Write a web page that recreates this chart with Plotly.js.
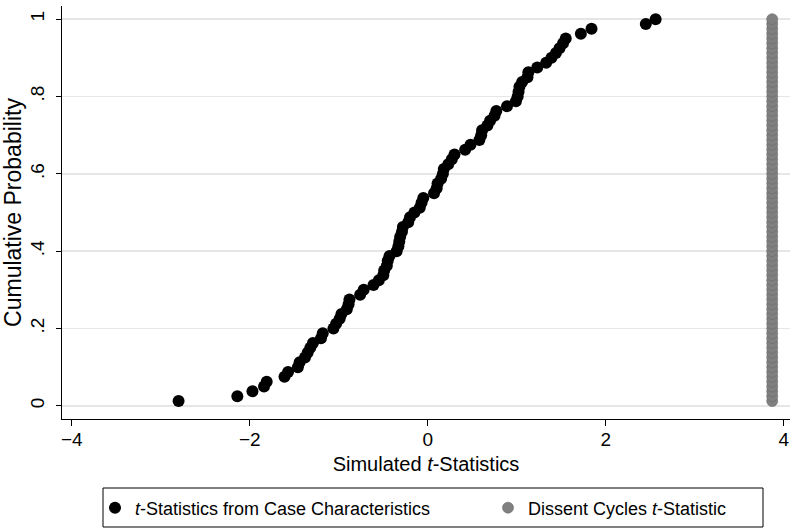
<!DOCTYPE html>
<html>
<head>
<meta charset="utf-8">
<script src="https://cdn.plot.ly/plotly-3.0.1.min.js"></script>
<style>html,body{margin:0;padding:0;background:#fff;}#chart{width:791px;height:528px;}</style>
</head>
<body>
<div id="chart"></div>
<script>
// Simulated t-statistics (sorted) from case characteristics
var caseT = [-2.80,-2.14,-1.97,-1.84,-1.81,-1.61,-1.57,-1.46,-1.44,-1.38,
             -1.35,-1.32,-1.29,-1.20,-1.18,-1.06,-1.03,-0.99,-0.97,-0.91,
             -0.89,-0.88,-0.76,-0.72,-0.61,-0.55,-0.50,-0.49,-0.46,-0.45,
             -0.43,-0.35,-0.33,-0.32,-0.31,-0.29,-0.28,-0.22,-0.20,-0.15,
             -0.09,-0.07,-0.05,0.07,0.10,0.11,0.15,0.17,0.18,0.23,
             0.27,0.30,0.42,0.48,0.58,0.60,0.61,0.67,0.70,0.75,
             0.77,0.89,0.99,1.01,1.02,1.03,1.06,1.12,1.13,1.23,
             1.33,1.39,1.44,1.48,1.52,1.55,1.72,1.84,2.45,2.56];
// cumulative probabilities i/80
var cumProb = [0.0125,0.025,0.0375,0.05,0.0625,0.075,0.0875,0.1,0.1125,0.125,
               0.1375,0.15,0.1625,0.175,0.1875,0.2,0.2125,0.225,0.2375,0.25,
               0.2625,0.275,0.2875,0.3,0.3125,0.325,0.3375,0.35,0.3625,0.375,
               0.3875,0.4,0.4125,0.425,0.4375,0.45,0.4625,0.475,0.4875,0.5,
               0.5125,0.525,0.5375,0.55,0.5625,0.575,0.5875,0.6,0.6125,0.625,
               0.6375,0.65,0.6625,0.675,0.6875,0.7,0.7125,0.725,0.7375,0.75,
               0.7625,0.775,0.7875,0.8,0.8125,0.825,0.8375,0.85,0.8625,0.875,
               0.8875,0.9,0.9125,0.925,0.9375,0.95,0.9625,0.975,0.9875,1.0];
// Dissent cycles t-statistic (single value repeated at each probability)
var dissentT = 3.87;
var dissentX = cumProb.map(function(){ return dissentT; });

var yTickVals = [0, 0.2, 0.4, 0.6, 0.8, 1];
var yTickText = ["0", ".2", ".4", ".6", ".8", "1"];
var xTickVals = [-4, -2, 0, 2, 4];
var xTickText = ["\u22124", "\u22122", "0", "2", "4"];

var W = 791, H = 528, mL = 62, mR = 1, mT = 6, mB = 109;
var pw = W - mL - mR, ph = H - mT - mB;
function px(x){ return (x - mL) / pw; }
function py(y){ return (H - mB - y) / ph; }

var FONT = "Liberation Sans, Arial, Helvetica, sans-serif";

var traces = [
  {x: caseT, y: cumProb, type: 'scatter', mode: 'markers',
   name: '<i>t</i>-Statistics from Case Characteristics', legendwidth: 348,
   marker: {color: '#000000', size: 12, line: {width: 0}}},
  {x: dissentX, y: cumProb, type: 'scatter', mode: 'markers',
   name: 'Dissent Cycles <i>t</i>-Statistic', legendwidth: 226,
   marker: {color: '#808080', size: 11, line: {width: 0.6, color: '#6a6a6a'}}}
];

var layout = {
  width: W, height: H,
  margin: {l: mL, r: mR, t: mT, b: mB, pad: 0},
  paper_bgcolor: '#ffffff', plot_bgcolor: '#ffffff',
  font: {family: FONT, color: '#000000', size: 19},
  showlegend: true,
  xaxis: {
    range: [-4.11, 4.07], tickvals: xTickVals, ticktext: xTickText,
    showgrid: false, zeroline: false, showline: true, linecolor: '#000', linewidth: 1,
    ticks: 'outside', ticklen: 6, tickcolor: '#000', tickwidth: 1,
    ticklabelstandoff: -3,
    tickfont: {size: 19, family: FONT},
    title: {text: 'Simulated <i>t</i>-Statistics', font: {size: 20, family: FONT}, standoff: 8}
  },
  yaxis: {
    range: [-0.034, 1.034], tickvals: yTickVals, ticktext: yTickText, tickangle: -90,
    showgrid: true, gridcolor: '#e6e6e6', gridwidth: 1.5, zeroline: false,
    showline: true, linecolor: '#000', linewidth: 1,
    ticks: 'outside', ticklen: 5, tickcolor: '#000', tickwidth: 1,
    ticklabelstandoff: 4,
    tickfont: {size: 19, family: FONT},
    title: {text: 'Cumulative Probability', font: {size: 23, family: FONT}, standoff: 2}
  },
  legend: {
    orientation: 'h', x: px(95), xanchor: 'left', y: py(508), yanchor: 'middle',
    bgcolor: 'rgba(0,0,0,0)', borderwidth: 0,
    font: {size: 18, family: FONT}, entrywidthmode: 'pixels',
    itemclick: false
  },
  shapes: [
    {type: 'rect', xref: 'paper', yref: 'paper',
     x0: px(103), x1: px(763), y0: py(527), y1: py(488),
     line: {color: '#000', width: 1}, fillcolor: 'rgba(0,0,0,0)', layer: 'below'}
  ]
};

Plotly.newPlot('chart', traces, layout, {displayModeBar: false, staticPlot: true});
</script>
</body>
</html>
